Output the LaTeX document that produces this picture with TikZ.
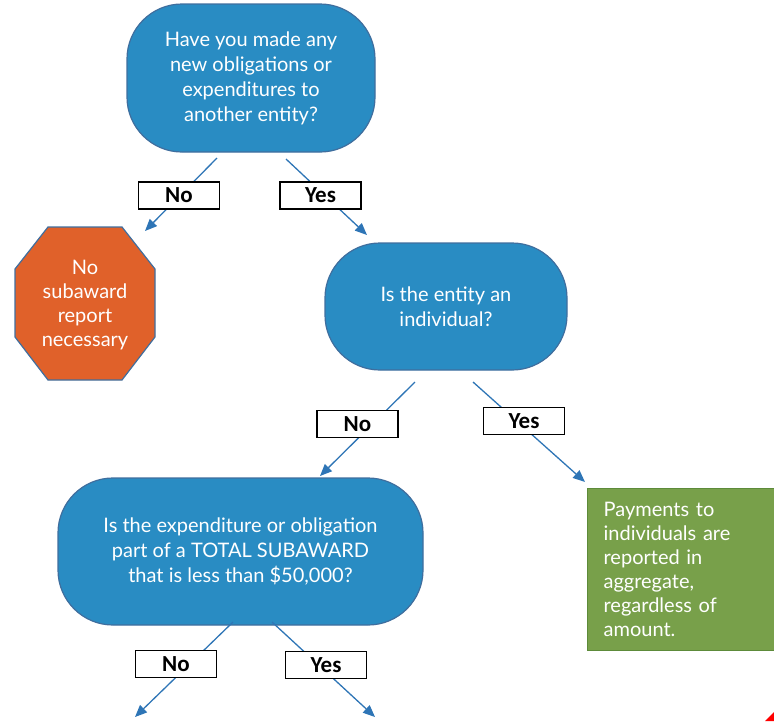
\documentclass[tikz,border=0pt]{standalone}
\usepackage{fontspec}
\newfontfamily\boxfont{Lato}
\newfontfamily\labfont{Carlito}
\usetikzlibrary{arrows.meta}

\definecolor{qfill}{RGB}{41,140,195}
\definecolor{qline}{RGB}{63,110,158}
\definecolor{stopfill}{RGB}{224,97,42}
\definecolor{okfill}{RGB}{120,160,74}
\definecolor{okline}{RGB}{93,139,58}
\definecolor{arrowblue}{RGB}{46,117,182}

\tikzset{
  question/.style={draw=qline, line width=1.2pt, fill=qfill, rounded corners=55pt,
    text=white, align=center, inner sep=0pt,
    font={\boxfont\fontsize{20}{25}\selectfont}},
  answer/.style={draw=black, line width=1.1pt, fill=white, minimum width=81pt,
    minimum height=27pt, inner sep=0pt, font={\labfont\bfseries\fontsize{23}{24}\selectfont}},
  flow/.style={draw=arrowblue, line width=1.3pt, -{Triangle[length=12pt,width=10pt]}},
  stoptext/.style={text=white, align=center, inner sep=0pt,
    font={\boxfont\fontsize{20}{24}\selectfont}},
  outcome/.style={draw=okline, line width=1.2pt, fill=okfill, text=white, align=left,
    anchor=north west, text width=157pt, inner xsep=16pt, inner ysep=0pt,
    minimum height=162pt, font={\boxfont\fontsize{20}{24}\selectfont}}
}

\begin{document}
\begin{tikzpicture}[x=1pt, y=-1pt]
  \useasboundingbox (0,0) rectangle (774,721);

  % decision boxes
  \node[question, minimum width=248pt, minimum height=148pt] (q1) at (251,78)
    {\fontsize{20}{26}\selectfont Have you made any\\ new obligations or\\ expenditures to\\ another entity?};
  \node[question, minimum width=242pt, minimum height=127pt] (q2) at (446,306.5)
    {Is the entity an\\ individual?};
  \node[question, minimum width=365pt, minimum height=147pt] (q3) at (240.5,551.5)
    {Is the expenditure or obligation\\ part of a TOTAL SUBAWARD\\ that is less than \$50,000?};

  % stop sign
  \filldraw[draw=qline, line width=1.2pt, fill=stopfill]
    (48,227) -- (122,227) -- (155,269) -- (155,337) -- (122,380)
    -- (48,380) -- (15,337) -- (15,269) -- cycle;
  \node[stoptext] (stop) at (85,305) {No\\ subaward\\ report\\ necessary};

  % individual payments result
  \node[outcome] (ok) at (587,488)
    {Payments to\\ individuals are\\ reported in\\ aggregate,\\ regardless of\\ amount.};

  % connector ends
  \coordinate (a1s) at (217,158);  \coordinate (a1e) at (145,231);
  \coordinate (a2s) at (286,159);  \coordinate (a2e) at (367,235);
  \coordinate (a3s) at (415,382);  \coordinate (a3e) at (320,476);
  \coordinate (a4s) at (473,382);  \coordinate (a4e) at (585,482);
  \coordinate (a5s) at (233,622);  \coordinate (a5e) at (135,717);
  \coordinate (a6s) at (272,622);  \coordinate (a6e) at (375,717);

  \draw[flow] (a1s) -- (a1e);
  \draw[flow] (a2s) -- (a2e);
  \draw[flow] (a3s) -- (a3e);
  \draw[flow] (a4s) -- (a4e);
  \draw[flow] (a5s) -- (a5e);
  \draw[flow] (a6s) -- (a6e);

  % answer labels
  \node[answer] (n1) at (179,195.5) {No};
  \node[answer] (y1) at (320.5,195.5) {Yes};
  \node[answer] (n2) at (357.5,424) {No};
  \node[answer] (y2) at (524,421) {Yes};
  \node[answer] (n3) at (176,664) {No};
  \node[answer] (y3) at (326,665) {Yes};

  % corner mark
  \fill[red] (774,712) -- (774,721) -- (765,721) -- cycle;
\end{tikzpicture}
\end{document}
